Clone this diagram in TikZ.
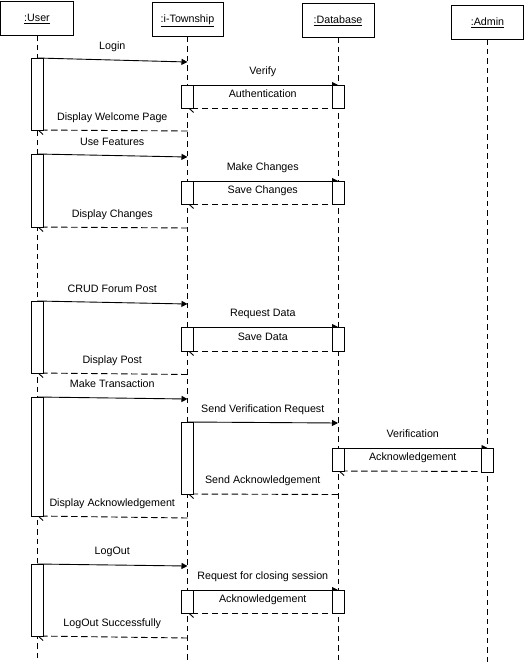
\documentclass[tikz,border=0pt]{standalone}
\usepackage{fontspec}
\setmainfont{Liberation Sans}
\usetikzlibrary{arrows.meta}
\begin{document}
\begin{tikzpicture}[x=1bp,y=-1bp,line width=0.9bp,
  font=\fontsize{10.7bp}{12bp}\selectfont,
  head/.style={draw,fill=white,inner sep=0pt,minimum height=34bp,
    text height=8bp,text depth=1bp},
  life/.style={dash pattern=on 5.5bp off 4bp},
  bar/.style={draw,fill=white,inner sep=0pt,minimum width=12bp,
    minimum height=#1,anchor=north},
  call/.style={-{Triangle[length=6bp,width=6bp]}},
  reply/.style={dash pattern=on 6.5bp off 3.5bp,
    -{Straight Barb[harpoon,length=5bp,width=9bp]}},
  lbl/.style={midway,anchor=base,yshift=10.3bp,inner sep=0pt}]
\useasboundingbox (0,0) rectangle (524,662);

% object heads
\node[head,minimum width=73bp] (user)  at (37,18)    {\underline{:User}};
\node[head,minimum width=71bp] (town)  at (187.5,19.5) {\underline{:i-Township}};
\node[head,minimum width=72bp] (db)    at (338,20)   {\underline{:Database}};
\node[head,minimum width=72bp] (admin) at (487.5,22) {\underline{:Admin}};

% lifelines
\coordinate (userend)  at (37,662);
\coordinate (townend)  at (187.5,662);
\coordinate (dbend)    at (338,662);
\coordinate (adminend) at (487.5,662);
\draw[life] (user.south)  -- (userend);
\draw[life] (town.south)  -- (townend);
\draw[life] (db.south)    -- (dbend);
\draw[life] (admin.south) -- (adminend);

% login
\draw[call]  (user |- 0,58)  -- (town |- 0,62)  node[lbl] {Login};
\draw[call]  (town |- 0,85)  -- (db |- 0,85)    node[lbl] {Verify};
\draw[reply] (db |- 0,108)   -- (town |- 0,108) node[lbl] {Authentication};
\draw[reply] (town |- 0,131) -- (user |- 0,130) node[lbl] {Display Welcome Page};

% features
\draw[call]  (user |- 0,154) -- (town |- 0,157) node[lbl] {Use Features};
\draw[call]  (town |- 0,181) -- (db |- 0,181)   node[lbl] {Make Changes};
\draw[reply] (db |- 0,204)   -- (town |- 0,204) node[lbl] {Save Changes};
\draw[reply] (town |- 0,228) -- (user |- 0,227) node[lbl] {Display Changes};

% forum
\draw[call]  (user |- 0,301) -- (town |- 0,304) node[lbl] {CRUD Forum Post};
\draw[call]  (town |- 0,327) -- (db |- 0,327)   node[lbl] {Request Data};
\draw[reply] (db |- 0,351)   -- (town |- 0,351) node[lbl] {Save Data};
\draw[reply] (town |- 0,374.5) -- (user |- 0,373) node[lbl] {Display Post};

% transaction
\draw[call]  (user |- 0,397) -- (town |- 0,399) node[lbl] {Make Transaction};
\draw[call]  (town |- 0,422) -- (db |- 0,423)   node[lbl] {Send Verification Request};
\draw[call]  (db |- 0,448)   -- (admin |- 0,448) node[lbl] {Verification};
\draw[reply] (admin |- 0,471.5) -- (db |- 0,471) node[lbl] {Acknowledgement};
\draw[reply] (db |- 0,494.5) -- (town |- 0,494) node[lbl] {Send Acknowledgement};
\draw[reply] (town |- 0,518) -- (user |- 0,516) node[lbl] {Display Acknowledgement};

% logout
\draw[call]  (user |- 0,564) -- (town |- 0,566) node[lbl] {LogOut};
\draw[call]  (town |- 0,590) -- (db |- 0,590)   node[lbl] {Request for closing session};
\draw[reply] (db |- 0,613)   -- (town |- 0,613) node[lbl] {Acknowledgement};
\draw[reply] (town |- 0,638) -- (user |- 0,636) node[lbl] {LogOut Successfully};

% activation bars
\node[bar=72bp] (ub1) at (37,58)  {};
\node[bar=73bp] (ub2) at (37,154) {};
\node[bar=72bp] (ub3) at (37,301) {};
\node[bar=119bp] (ub4) at (37,397) {};
\node[bar=72bp] (ub5) at (37,564) {};

\node[bar=23bp] (tb1) at (187.5,85)  {};
\node[bar=23bp] (tb2) at (187.5,181) {};
\node[bar=24bp] (tb3) at (187.5,327) {};
\node[bar=72bp] (tb4) at (187.5,422) {};
\node[bar=23bp] (tb5) at (187.5,590) {};

\node[bar=23bp] (db1) at (338,85)  {};
\node[bar=23bp] (db2) at (338,181) {};
\node[bar=24bp] (db3) at (338,327) {};
\node[bar=23bp] (db4) at (338,448) {};
\node[bar=23bp] (db5) at (338,590) {};

\node[bar=24bp] (ab1) at (487.5,448) {};
\end{tikzpicture}
\end{document}
